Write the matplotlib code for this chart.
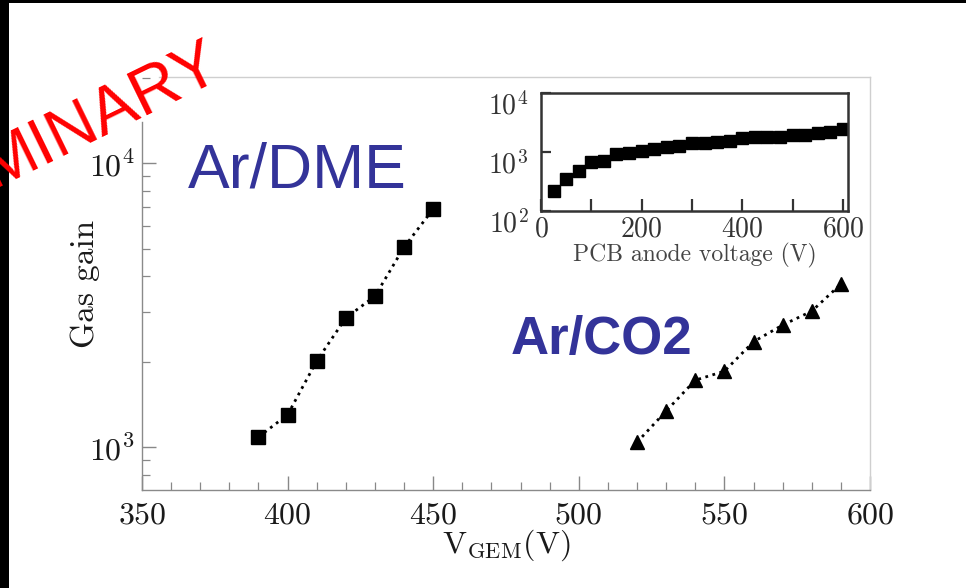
import numpy as np
import matplotlib
matplotlib.use("Agg")
import matplotlib.pyplot as plt
from matplotlib.patches import Rectangle
from matplotlib.ticker import LogLocator, NullFormatter, MultipleLocator
import matplotlib.transforms as mtransforms

plt.rcParams['font.family'] = 'serif'
plt.rcParams['font.serif'] = ['cmr10']
plt.rcParams['mathtext.fontset'] = 'cm'
plt.rcParams['axes.formatter.use_mathtext'] = True

# GEM voltage scans
dme_v = [390, 400, 410, 420, 430, 440, 450]
dme_gain = [1085, 1300, 2010, 2850, 3400, 5060, 6890]
co2_v = [520, 530, 540, 550, 560, 570, 580, 590]
co2_gain = [1040, 1340, 1720, 1850, 2350, 2690, 3010, 3750]

# PCB anode scan (inset)
pcb_v = [25, 50, 75, 100, 125, 150, 175, 200, 225, 250, 275, 300,
         325, 350, 375, 400, 425, 450, 475, 500, 525, 550, 575, 600]
pcb_gain = [218, 344, 482, 685, 703, 925, 972, 1040, 1120, 1230, 1280, 1400,
            1400, 1460, 1555, 1750, 1820, 1820, 1820, 1920, 1970, 2070, 2180, 2455]

W, H = 966, 588
fig = plt.figure(figsize=(W / 100, H / 100), dpi=100)
fig.patch.set_facecolor('white')

# black frame strips on the left and top edge
fig.patches.append(Rectangle((0, 0), 8.5 / W, 1, transform=fig.transFigure,
                             facecolor='black', edgecolor='none', zorder=0))
fig.patches.append(Rectangle((0, 1 - 3 / H), 1, 3 / H, transform=fig.transFigure,
                             facecolor='black', edgecolor='none', zorder=0))

# main panel
ax = fig.add_axes([142 / W, 98 / H, 728 / W, 413 / H])
ax.set_yscale('log')
ax.set_xlim(350, 600)
ax.set_ylim(706, 20100)

ax.plot(dme_v, dme_gain, color='black', ls=':', lw=2)
ax.plot(dme_v, dme_gain, 'ks', ms=9.5)
ax.plot(co2_v, co2_gain, color='black', ls=':', lw=2)
ax.plot(co2_v, co2_gain, 'k^', ms=10)

ax.set_xticks([350, 400, 450, 500, 550, 600])
ax.xaxis.set_minor_locator(MultipleLocator(10))
ax.set_yticks([1e3, 1e4])
ax.set_yticklabels([r'$\mathrm{10}^{\mathrm{3}}$', r'$\mathrm{10}^{\mathrm{4}}$'])
ax.yaxis.set_minor_locator(LogLocator(base=10, subs=np.arange(2, 10)))
ax.yaxis.set_minor_formatter(NullFormatter())
ax.tick_params(which='both', direction='in', color='#888888', labelcolor='#1a1a1a')
ax.tick_params(which='major', length=10, width=1.0, labelsize=23)
ax.tick_params(which='minor', length=6, width=0.9)
ax.tick_params(axis='x', which='major', pad=9)
ax.tick_params(axis='y', which='major', pad=5)

for side in ['left', 'bottom']:
    ax.spines[side].set_color('#8a8a8a')
    ax.spines[side].set_linewidth(1.0)
for side in ['top', 'right']:
    ax.spines[side].set_color('#cfcfcf')
    ax.spines[side].set_linewidth(1.0)
ax.spines['left'].set_bounds(706, 14000)
ax.spines['top'].set_bounds(356, 600)

ax.set_ylabel('Gas gain', fontsize=24, color='#1a1a1a')
ax.yaxis.set_label_coords(-0.058, 0.5)
ax.set_xlabel(r'$\mathrm{V}_{\mathrm{GEM}}\mathrm{(V)}$', fontsize=23, color='#1a1a1a')
ax.xaxis.set_label_coords(0.5, -0.09)
ax.xaxis.label.set_va('top')

# inset: gain vs PCB anode voltage
ins = fig.add_axes([541 / W, 377 / H, 307 / W, 118 / H])
ins.set_yscale('log')
ins.set_xlim(0, 610)
ins.set_ylim(100, 10000)
ins.plot(pcb_v, pcb_gain, 'ks', ms=8.5)
ins.set_xticks([0, 200, 400, 600])
ins.set_xticks([100, 300, 500], minor=True)
ins.set_yticks([1e2, 1e3, 1e4])
ins.set_yticklabels([r'$\mathrm{10}^{\mathrm{2}}$', r'$\mathrm{10}^{\mathrm{3}}$',
                     r'$\mathrm{10}^{\mathrm{4}}$'])
ins.yaxis.set_minor_locator(LogLocator(base=10, subs=[]))
ins.yaxis.set_minor_formatter(NullFormatter())
ins.tick_params(which='both', direction='in', color='#333333', labelcolor='#333333')
ins.tick_params(axis='x', which='both', length=9, width=1.6, labelsize=20, pad=4)
ins.tick_params(axis='y', which='major', length=7, width=1.6, labelsize=20, pad=9)
shift = mtransforms.ScaledTranslation(0, -7 / 72, fig.dpi_scale_trans)
for lab in ins.get_yticklabels():
    lab.set_transform(lab.get_transform() + shift)
for side in ins.spines.values():
    side.set_color('#333333')
    side.set_linewidth(1.8)
ins.set_xlabel('PCB anode voltage (V)', fontsize=17, color='#444444', labelpad=0)

# gas mixture labels and watermark
fig.text(188 / W, 1 - 188 / H, 'Ar/DME', fontsize=45, color='#333399',
         family='Liberation Sans', ha='left', va='baseline')
fig.text(511 / W, 1 - 354 / H, 'Ar/CO2', fontsize=38, color='#333399',
         family='Liberation Sans', fontweight='bold', ha='left', va='baseline')
fig.text(-8 / W, 1 - 188 / H, 'MINARY', fontsize=48, color='red',
         family='Liberation Sans', rotation=26, rotation_mode='anchor',
         ha='left', va='baseline', zorder=5)

fig.savefig('out.png', dpi=100)
